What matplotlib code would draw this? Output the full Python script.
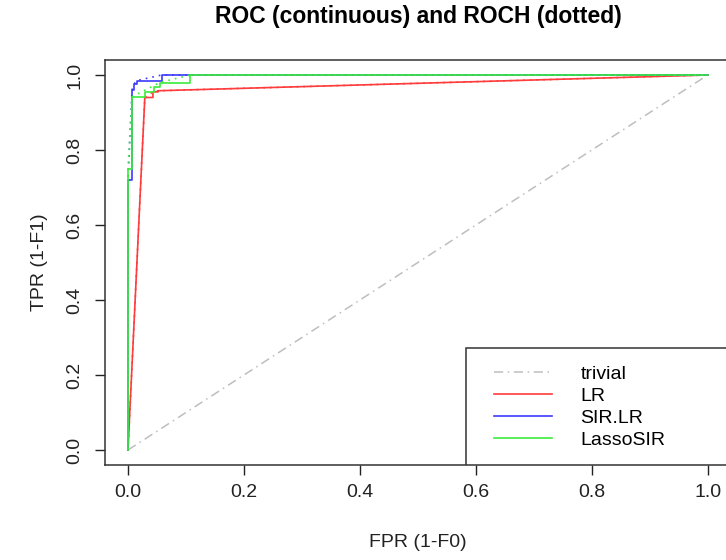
import matplotlib
matplotlib.use("Agg")
import matplotlib.pyplot as plt
from matplotlib.patches import Rectangle

plt.rcParams["font.family"] = ["Liberation Sans", "DejaVu Sans"]

# ROC curves (FPR, TPR)
lr_fpr = [0, 0.029, 0.043, 0.043, 0.052, 0.052, 1]
lr_tpr = [0, 0.940, 0.940, 0.955, 0.955, 0.958, 1]

sir_fpr = [0, 0, 0.007, 0.007, 0.010, 0.010, 0.015, 0.015, 0.058, 0.058, 1]
sir_tpr = [0, 0.72, 0.72, 0.960, 0.960, 0.975, 0.975, 0.985, 0.985, 1, 1]

lasso_fpr = [0, 0, 0.007, 0.007, 0.029, 0.029, 0.044, 0.044, 0.055, 0.055, 0.107, 0.107, 1]
lasso_tpr = [0, 0.75, 0.75, 0.942, 0.942, 0.955, 0.955, 0.969, 0.969, 0.980, 0.980, 1, 1]

labels = ["trivial", "LR", "SIR.LR", "LassoSIR"]
colors = ["#BEBEBE", "#FF3B3B", "#3B3BFF", "#3BEB3B"]


def upper_hull(xs, ys):
    # ROC convex hull (upper hull of the points)
    pts = sorted(set(zip(xs, ys)))
    hull = []
    for p in pts:
        while len(hull) >= 2:
            (x1, y1), (x2, y2) = hull[-2], hull[-1]
            cross = (x2 - x1) * (p[1] - y1) - (y2 - y1) * (p[0] - x1)
            if cross >= 0:
                hull.pop()
            else:
                break
        hull.append(p)
    hx, hy = zip(*hull)
    return list(hx), list(hy)


fig = plt.figure(figsize=(7.26, 5.6), dpi=100)
ax = fig.add_axes([104.8 / 726, 95 / 560, 626.2 / 726, 405 / 560])

ax.plot([0, 1], [0, 1], color=colors[0], lw=1.1, ls=(0, (6, 3, 1, 3)), label=labels[0])
curves = [(lr_fpr, lr_tpr), (sir_fpr, sir_tpr), (lasso_fpr, lasso_tpr)]
for (fx, ty), lab, col in zip(curves, labels[1:], colors[1:]):
    ax.plot(fx, ty, color=col, lw=1.2, label=lab)
    hx, hy = upper_hull(fx, ty)
    ax.plot(hx, hy, color=col, lw=1.2, ls=(0, (1, 3)))

ax.set_xlim(-0.04, 1.04)
ax.set_ylim(-0.04, 1.04)
ticks = [0.0, 0.2, 0.4, 0.6, 0.8, 1.0]
ax.set_xticks(ticks)
ax.set_yticks(ticks)
ax.set_xticklabels([f"{t:.1f}" for t in ticks])
ax.set_yticklabels([f"{t:.1f}" for t in ticks], rotation=90, va="center")
ax.tick_params(length=7.5, width=1, labelsize=14, color="#222222", labelcolor="#222222")
ax.tick_params(axis="x", pad=6)
ax.tick_params(axis="y", pad=8)
for s in ax.spines.values():
    s.set_linewidth(1.1)
    s.set_color("#333333")

ax.set_xlabel("FPR (1-F0)", fontsize=14, labelpad=24, color="#222222")
ax.set_ylabel("TPR (1-F1)", fontsize=14, labelpad=13, color="#222222")
ax.set_title("ROC (continuous) and ROCH (dotted)", fontsize=16.5, fontweight="bold", pad=27)

# R-style legend box anchored bottom-right, running to the plot edge
ax.add_patch(Rectangle((0.5768, 0), 1 - 0.5768, 0.2889, transform=ax.transAxes,
                       facecolor="white", edgecolor="#333333", lw=1.1, zorder=4))
leg = ax.legend(loc="upper left", bbox_to_anchor=(0.6215, 0.247), fontsize=14,
                frameon=False, borderaxespad=0, borderpad=0,
                handlelength=3.0, handletextpad=1.45, labelspacing=0.23)
leg.set_zorder(5)

fig.savefig("out.png", dpi=100)
